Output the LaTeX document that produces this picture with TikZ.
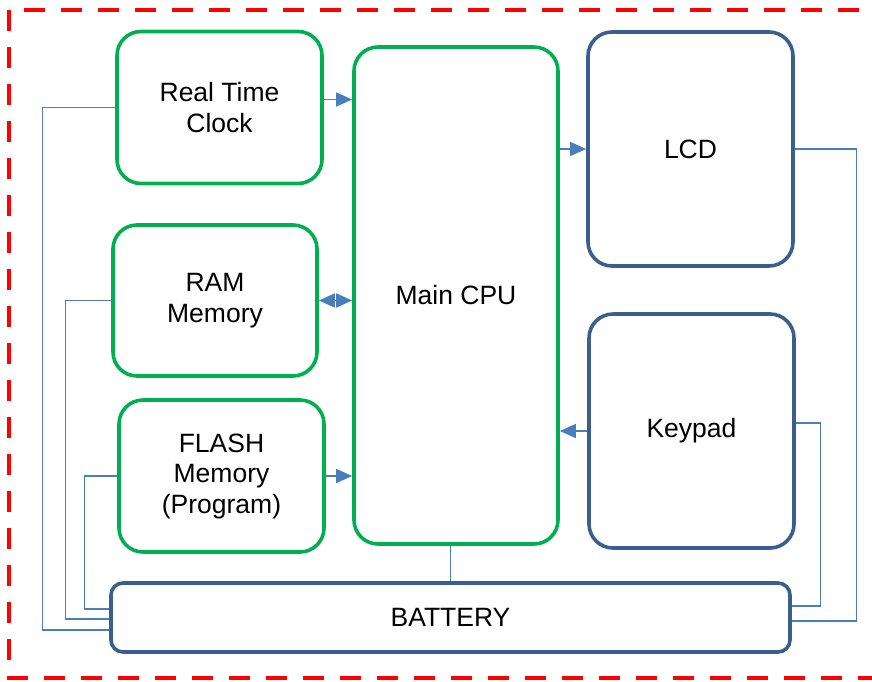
\documentclass[tikz,border=0pt]{standalone}
\usepackage{fontspec}
\setmainfont{Liberation Sans}
\usepackage{tikz}
\usetikzlibrary{arrows.meta}
\definecolor{boxgreen}{HTML}{00B050}
\definecolor{boxblue}{HTML}{3B5F8D}
\definecolor{wire}{HTML}{4A7EBB}

\begin{document}
\begin{tikzpicture}[x=1pt,y=-1pt,
  part/.style={draw=boxgreen,line width=3.6pt,rounded corners=24pt,align=center,
    font=\fontsize{26.5}{30.5}\selectfont,inner sep=0pt},
  unit/.style={part,draw=boxblue},
  conn/.style={wire,line width=1.4pt,-{Triangle[length=16pt,width=14pt]}},
  feed/.style={wire,line width=1.3pt}]
\useasboundingbox (0,0) rectangle (872,681);
\draw [red,line width=4.5pt,dash pattern=on 21pt off 16pt] (9,10) rectangle (950,678);
\node [part,minimum width=205pt,minimum height=152pt] (rtc) at (219.5,107.5) {Real Time\\Clock};
\node [part,minimum width=204pt,minimum height=151pt] (ram) at (215,300.5) {RAM\\Memory};
\node [part,minimum width=205pt,minimum height=152pt] (flash) at (221.5,476) {FLASH\\Memory\\(Program)};
\node [part,minimum width=204pt,minimum height=497pt] (cpu) at (456,295.5) {Main CPU};
\node [unit,minimum width=205pt,minimum height=234pt] (lcd) at (690.5,149) {LCD};
\node [unit,minimum width=205pt,minimum height=234pt] (key) at (691.5,431) {Keypad};
\node [unit,rounded corners=12pt,minimum width=679pt,minimum height=69pt] (bat) at (450.5,617.5) {BATTERY};
\draw [conn] ([yshift=8pt]rtc.east) -- ([yshift=8pt]rtc.east -| cpu.west);
\draw [conn,{Triangle[length=16pt,width=14pt]}-{Triangle[length=16pt,width=14pt]}] (ram.east) -- (ram.east -| cpu.west);
\draw [conn] (flash.east) -- (flash.east -| cpu.west);
\draw [conn] (lcd.west -| cpu.east) -- (lcd.west);
\draw [conn] (key.west) -- (key.west -| cpu.east);
\draw [feed] (bat.north) -- (bat.north |- cpu.south);
% power lines
\draw [feed] (rtc.west) -- ++(-73,0) |- ([yshift=-12.5pt]bat.west);
\draw [feed] (ram.west) -- ++(-46,0) |- ([yshift=-1.5pt]bat.west);
\draw [feed] (flash.west) -- ++(-33,0) |- ([yshift=8.5pt]bat.west);
\draw [feed] (lcd.east) -- ++(62,0) |- ([yshift=-3.5pt]bat.east);
\draw [feed] ([yshift=8pt]key.east) -- ++(25,0) |- ([yshift=11.5pt]bat.east);
\end{tikzpicture}
\end{document}
